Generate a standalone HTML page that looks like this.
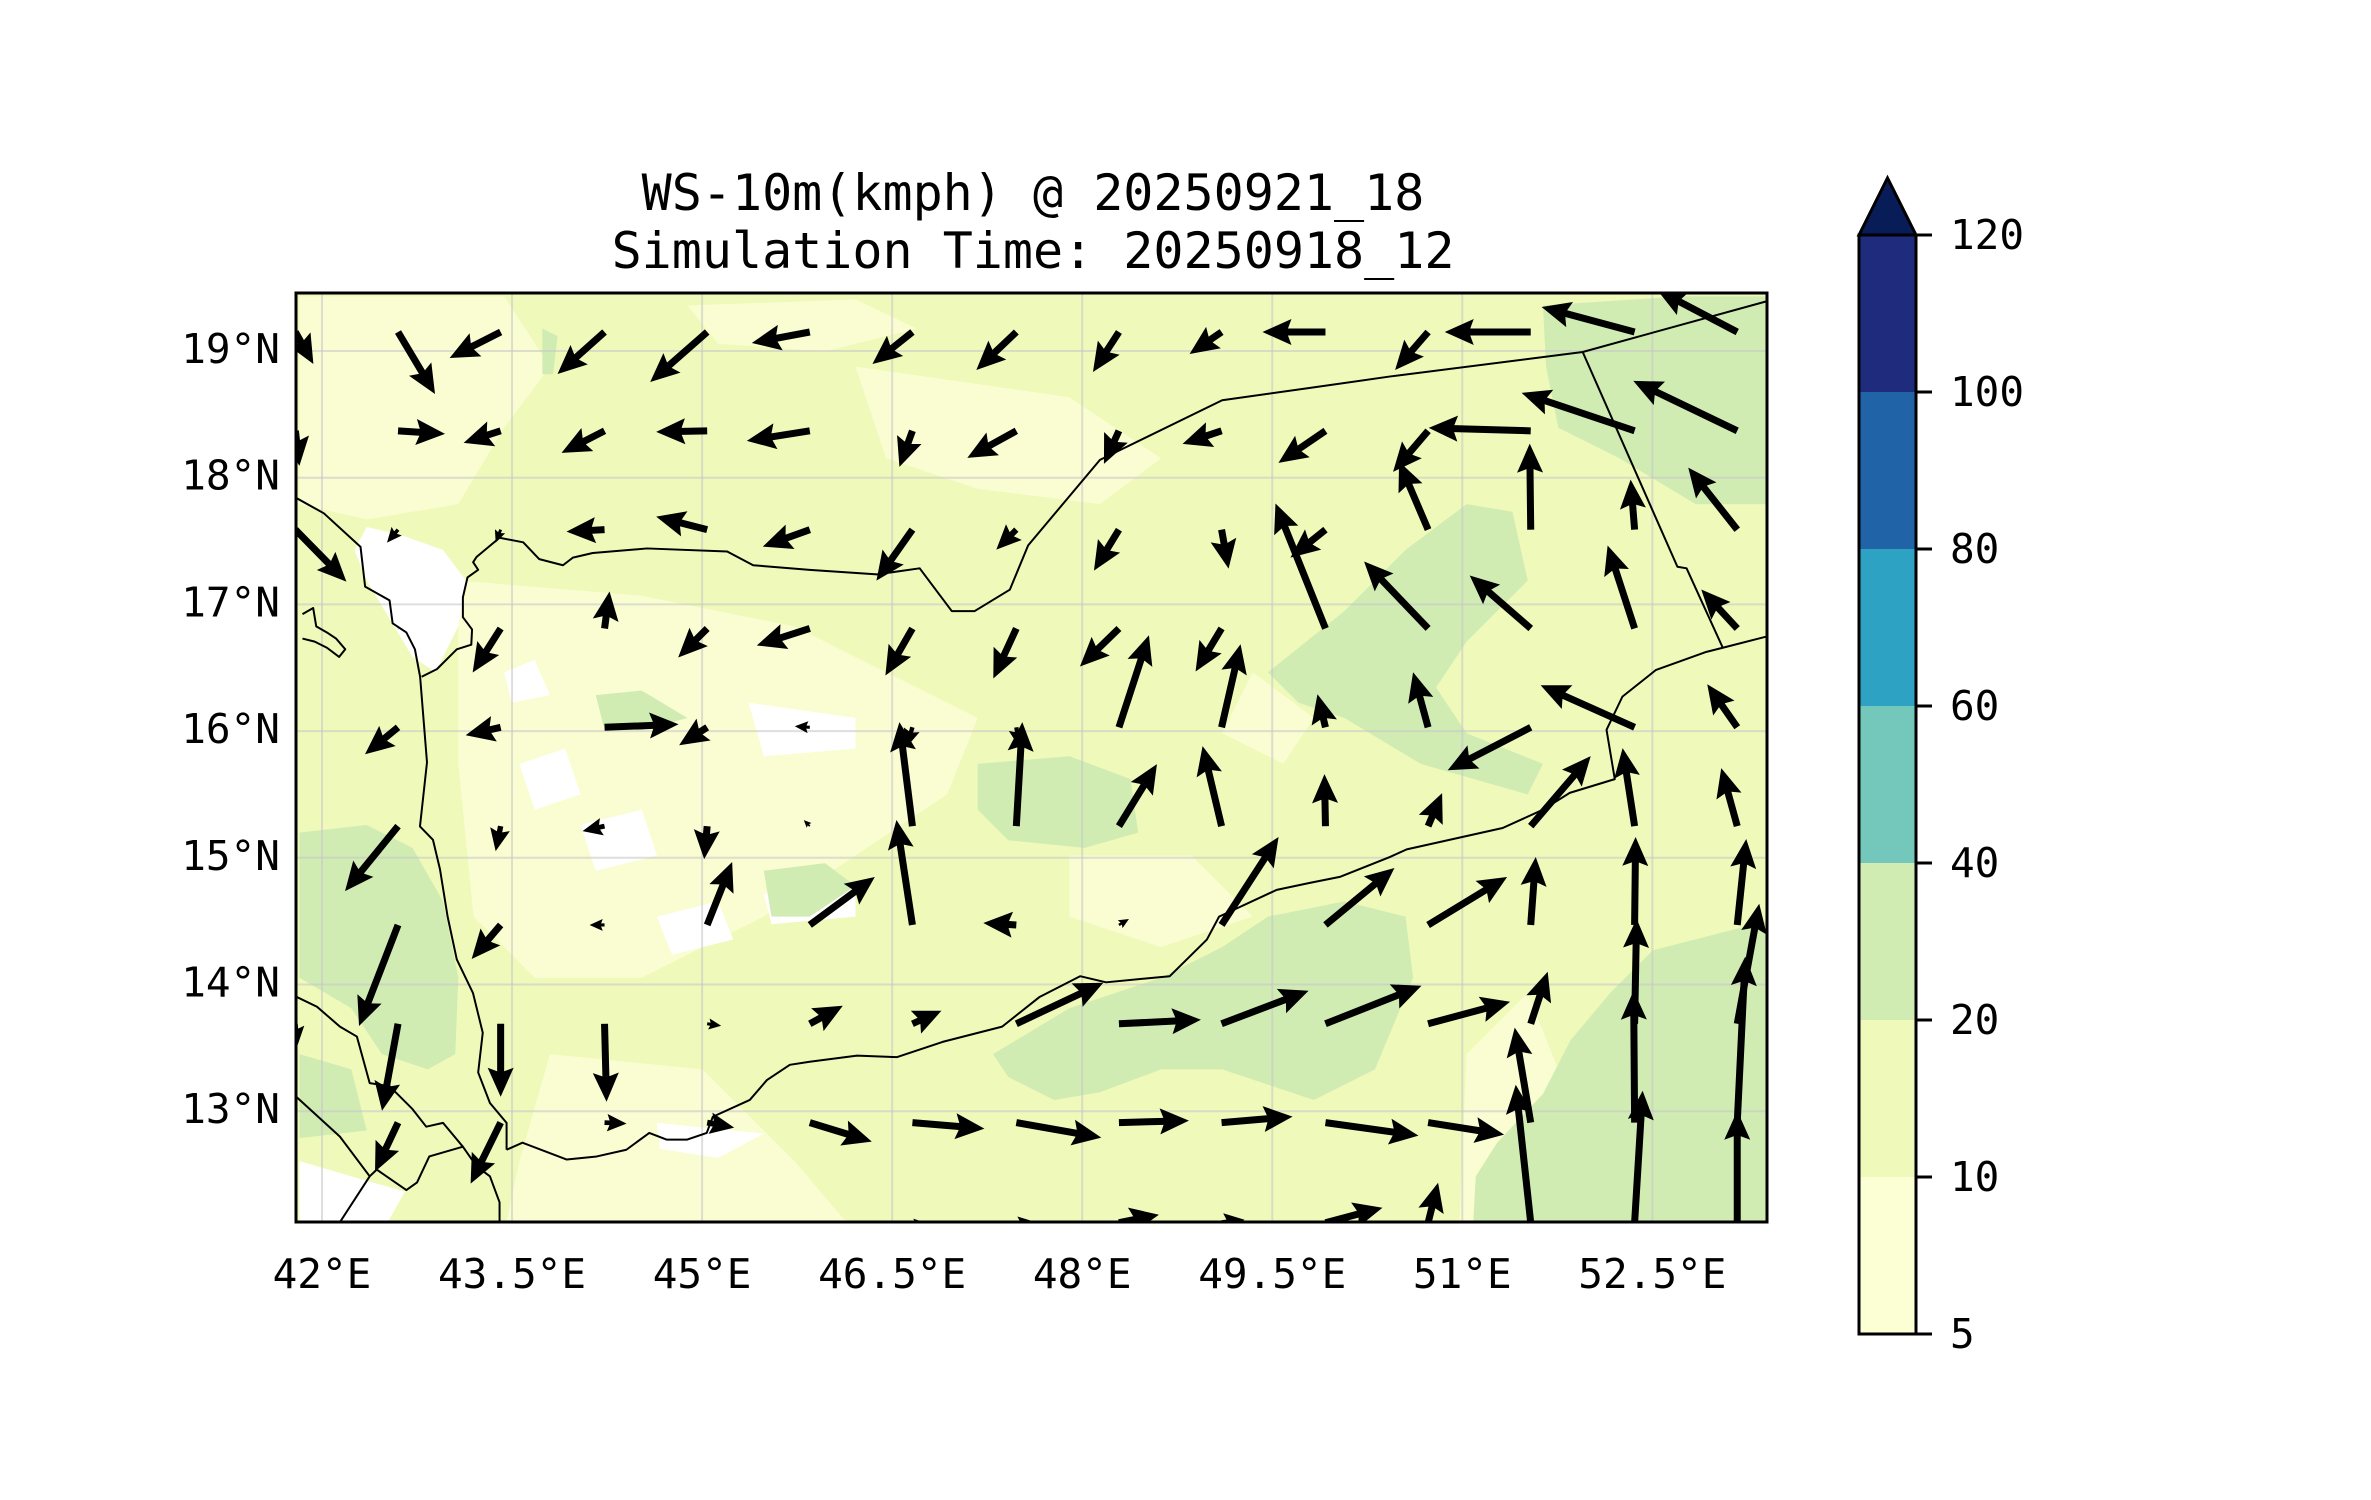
<!DOCTYPE html>
<html><head><meta charset="utf-8">
<style>
html,body{margin:0;padding:0;background:#fff;}
svg{display:block;font-family:"DejaVu Sans Mono","Liberation Mono",monospace;}
</style></head>
<body>
<svg id="fig" width="2371" height="1500" viewBox="0 0 2371 1500" xmlns="http://www.w3.org/2000/svg">
  <rect x="0" y="0" width="2371" height="1500" fill="#ffffff"/>
  <text x="1033" y="193" font-size="50" text-anchor="middle" dominant-baseline="central" fill="#000">WS-10m(kmph) @ 20250921_18</text>
  <text x="1033" y="251" font-size="50" text-anchor="middle" dominant-baseline="central" fill="#000">Simulation Time: 20250918_12</text>
  <defs>
    <clipPath id="mapclip"><rect x="296" y="293" width="1471" height="929"/></clipPath>
  </defs>
  <g id="map" clip-path="url(#mapclip)">
    <rect x="296" y="293" width="1471" height="929" fill="#eff9ba"/>
    <g id="fills" transform="scale(1.5277)"></g>
    <g id="grid"></g>
    <g id="coast" transform="scale(1.5277)" fill="none" stroke="#000" stroke-width="1.3" stroke-linejoin="round"></g>
    <g id="arrows"></g>
  </g>
  <rect x="296" y="293" width="1471" height="929" fill="none" stroke="#000" stroke-width="3"/>
  <g id="xlabels"></g>
  <g id="ylabels"></g>
  <g id="cbar"></g>
</svg>
<script>
// ---- data ----
const lonTicks = [42, 43.5, 45, 46.5, 48, 49.5, 51, 52.5];
const lonTickLabels = ["42°E","43.5°E","45°E","46.5°E","48°E","49.5°E","51°E","52.5°E"];
const latTicks = [19, 18, 17, 16, 15, 14, 13];
const latTickLabels = ["19°N","18°N","17°N","16°N","15°N","14°N","13°N"];
const cbarLevels = [5, 10, 20, 40, 60, 80, 100, 120];
const cbarColors = ["#fcfed3","#eff9ba","#d0ecb3","#73c8bb","#2ea2c2","#2163a7","#1f2c7e"];
const cbarExtendColor = "#081d58";
const gridLons = [41.79,42.60,43.41,44.23,45.04,45.85,46.66,47.48,48.29,49.10,49.92,50.73,51.54,52.36,53.17];
const gridLats = [19.15,18.37,17.59,16.81,16.03,15.25,14.47,13.69,12.91,12.12];
// wind components per row (u east, v north)
const u0 = [18,37,-51,-47,-57,-58,-40,-40,-26,-32,-63,-33,-86,-93,-80];
const v0 = [-32,-62,-26,-42,-50,-11,-32,-38,-40,-22,0,-38,0,25,42];
const u1 = [4,47,-37,-43,-51,-63,-13,-49,-15,-39,-47,-35,-102,-113,-104];
const v1 = [-35,-3,-12,-22,-1,-10,-36,-27,-33,-13,-32,-41,3,38,50];
const u2 = [51,-11,-5,-38,-51,-47,-36,-20,-25,7,-35,-29,-1,-4,-49];
const v2 = [-52,-13,-13,-2,13,-17,-51,-20,-41,-39,-28,68,86,50,62];
const u3 = [2,0,-28,5,-29,-53,-27,-23,-39,-26,-50,-64,-61,-27,-36];
const v3 = [2,-1,-44,37,-29,-17,-47,-50,-38,-43,125,67,53,83,39];
const u4 = [2,-33,-35,74,-28,-15,-6,3,30,19,-8,-15,-83,-94,-30];
const v4 = [0,-27,-8,3,-18,1,-20,-20,92,83,33,55,-43,42,43];
const u5 = [1,-53,-5,-22,-3,-6,-13,6,38,-19,-1,14,60,-12,-16];
const v5 = [-1,-65,-25,-5,-33,6,104,104,62,80,52,33,70,78,58];
const u6 = [1,-39,-29,-15,25,65,-16,-33,10,57,69,79,5,1,9];
const v6 = [0,-101,-34,0,63,48,105,2,6,88,57,48,68,88,86];
const u7 = [2,-16,0,2,14,33,29,87,82,87,96,82,17,2,22];
const v7 = [-22,-87,-73,-78,-2,18,13,41,4,33,38,22,52,105,120];
const u8 = [1,-23,-30,22,27,62,72,85,70,71,93,76,-16,-1,8];
const v8 = [-1,-49,-61,-1,-5,-19,-6,-15,2,6,-13,-12,95,132,166];
const u9 = [0,0,0,0,0,5,10,15,40,23,57,10,-15,8,0];
const v9 = [-10,-10,-10,-10,-10,2,1,2,8,3,15,40,138,132,112];
const uRows = [u0,u1,u2,u3,u4,u5,u6,u7,u8,u9];
const vRows = [v0,v1,v2,v3,v4,v5,v6,v7,v8,v9];

// ---- axes ----
const NS = "http://www.w3.org/2000/svg";
const PX_PER_DEG = 126.7;
function xOf(lon){ return 322 + (lon - 42) * PX_PER_DEG; }
function yOf(lat){ return 351 - (lat - 19) * PX_PER_DEG; }
const QSCALE = 1.0; // px per unit
function mk(tag, attrs, parent){ const e=document.createElementNS(NS,tag); for(const k in attrs) e.setAttribute(k,attrs[k]); parent.appendChild(e); return e; }

// gridlines
const grid = document.getElementById('grid');
lonTicks.forEach(l=>{ const ln=mk('line',{x1:xOf(l),x2:xOf(l),y1:293,y2:1222,stroke:'#c8c8c8','stroke-width':2,'stroke-opacity':0.6},grid);

 });
latTicks.forEach(l=>{ const ln=mk('line',{x1:296,x2:1767,y1:yOf(l),y2:yOf(l),stroke:'#c8c8c8','stroke-width':2,'stroke-opacity':0.6},grid);

 });

// tick labels
const xl = document.getElementById('xlabels');
lonTicks.forEach((l,i)=>{ const t=mk('text',{x:xOf(l),y:1274,'font-size':41,'text-anchor':'middle','dominant-baseline':'central'},xl); t.textContent=lonTickLabels[i];

 });
const yl = document.getElementById('ylabels');
latTicks.forEach((l,i)=>{ const t=mk('text',{x:280,y:yOf(l)-2,'font-size':41,'text-anchor':'end','dominant-baseline':'central'},yl); t.textContent=latTickLabels[i];

 });

// contour fills (approximate, display coords)
const fills = document.getElementById('fills');
const pale = "#fafdd1", green = "#d0ecb3", white = "#ffffff";
const fillShapes = [
 [pale,"196,194 330,194 360,240 330,280 300,330 240,340 196,330"],
 [pale,"300,380 420,390 520,410 580,440 640,470 620,520 560,560 500,600 420,640 350,640 310,600 300,500"],
 [pale,"360,690 460,700 520,760 560,807 330,807 340,760"],
 [pale,"560,240 700,260 760,300 720,330 640,320 580,300"],
 [pale,"700,560 780,560 820,600 760,620 700,600"],
 [pale,"960,690 1000,650 1020,700 990,760 975,807 955,807"],
 [pale,"450,200 560,196 600,215 540,230 470,225"],
 [pale,"820,440 860,470 840,500 800,480"],
 [white,"240,345 262,350 290,360 305,380 300,410 285,440 270,430 255,405 240,380 232,360"],
 [white,"196,760 230,770 265,780 250,807 196,807"],
 [white,"340,500 370,490 380,520 350,530"],
 [white,"490,460 560,470 560,490 500,495"],
 [white,"380,540 420,530 430,560 390,570"],
 [white,"500,585 560,580 560,600 505,605"],
 [white,"430,735 500,742 470,758 432,752"],
 [white,"330,440 350,432 360,455 335,460"],
 [white,"430,600 470,590 480,615 440,625"],
 [green,"196,545 240,540 270,555 290,590 300,640 298,690 280,700 250,690 230,660 196,640"],
 [green,"196,690 230,700 240,740 196,745"],
 [green,"1168,600 1082,622 1054,650 1028,681 1010,716 980,748 966,770 964,807 1168,807"],
 [green,"650,690 700,660 760,640 800,620 830,600 880,590 920,600 925,640 900,700 860,720 800,700 760,700 720,715 690,720 660,705"],
 [green,"830,440 880,400 920,360 960,330 990,335 1000,380 960,420 940,450 960,480 1010,500 1000,520 930,500 880,470 850,460"],
 [green,"1010,200 1100,194 1168,194 1168,330 1110,330 1060,300 1020,280 1012,240"],
 [green,"640,500 700,495 740,510 745,545 710,555 660,550 640,530"],
 [green,"500,570 540,565 560,580 530,600 505,600"],
 [green,"390,455 420,452 450,470 420,478 395,475"],
 [green,"355,215 365,220 362,245 355,245"]
];
fillShapes.forEach(s=>{ const p=mk('polygon',{points:s[1],fill:s[0],stroke:'none'},fills);

 });

// coastlines & borders (display coords)
const coast = document.getElementById('coast');
const coastLines = [
 "194,326 212,336 236,358 239,384 255,393 257,408 266,414 271.6,425 275,443 279.5,499 274.9,541 283.4,549.7 288,569 293,600 299,628 309.6,650 316,676 313,702 320.7,722 331.6,735 331.6,752.6",
 "331.6,752.6 342,748 371,759 390.6,757 410,752.6 425,741.6 436.5,746 449.6,746 462.6,741.6 466.6,731 490.8,720 502,707 517,697 530,695 561,691 587,692 617,682 656,672 680.6,652.5 707,639 724,643 765.7,639 790,615 798,600 835.7,582.5 857,578 877,574 909.7,561 920.8,556 983.6,542 1010,530 1027.5,519 1057,510 1051.6,477.7 1062,456 1084,438.5 1117,426.7 1127.7,424 1155,417 1170,415",
 "276,443 286,438 299,425 308.5,422 309,412 303,404 303,391 306,378 313,373 309.7,368 312,364.5 327,352 342.5,355 353,366 368.5,370 375,365 388,362 423.5,359 476,361 493,370 530,373 574,376 602,372 623,400 638,400 661,386 673,357 720,301 800,262 857,254 909.5,246.5 1036,230.4 1168,194",
 "1036,230.4 1098,371 1104,372 1127.7,424",
 "194,652.5 207.5,659 222.5,672 233.6,678.5 242,709 255,711 270,726 279,737.5 290,735 303,750.6 312,763.5 320.7,770 327,787 327,810",
 "194,718 222.5,744 242,770 246.6,765.6 266,779 273,774 281,757 303,750.6",
 "242,770 222.5,800 215,810",
 "198,402 205,398 207,410 214,414 220,418 226,425 222,430 214,424 206,420 198,418"
];
coastLines.forEach(s=>{ const p=mk('polyline',{points:s},coast);

 });

// arrows
const arrows = document.getElementById('arrows');
const W = 7, HL = 29, HA = 25.5, HW = 13;
for (let j=0;j<gridLats.length;j++){
  for (let i=0;i<gridLons.length;i++){
    const x0 = xOf(gridLons[i]), y0 = yOf(gridLats[j]);
    const dx = uRows[j][i]*QSCALE, dy = -vRows[j][i]*QSCALE;
    const L = Math.hypot(dx,dy);
    if (L < 0.5) continue;
    const ang = Math.atan2(dy,dx)*180/Math.PI;
    let s = 1, len = L;
    if (L < HL + 4) { s = L/(HL+4); }
    const w=W*s, hl=HL*s, ha=HA*s, hw=HW*s;
    const sh = Math.max(len-ha, 0);
    const pts = [[0,-w/2],[sh,-w/2],[len-hl,-hw],[len,0],[len-hl,hw],[sh,w/2],[0,w/2]];
    const poly = mk('polygon',{points:pts.map(p=>p[0].toFixed(2)+','+p[1].toFixed(2)).join(' '),
      transform:`translate(${x0.toFixed(2)},${y0.toFixed(2)}) rotate(${ang.toFixed(2)})`, fill:'#000'}, arrows);
    
    
  }
}

// colorbar
const cb = document.getElementById('cbar');
const CBX = 1859, CBW = 57, CBTOP = 235, SEG = 157;
function cbY(idx){ return CBTOP + (cbarLevels.length-1-idx)*SEG; }
for (let k=0;k<cbarColors.length;k++){
  const r = mk('rect',{x:CBX,y:cbY(k+1),width:CBW,height:SEG,fill:cbarColors[k]},cb);
  
  
}
const tri = mk('polygon',{points:`${CBX},${CBTOP} ${CBX+CBW/2},178 ${CBX+CBW},${CBTOP}`,fill:cbarExtendColor,stroke:'#000','stroke-width':3,'stroke-linejoin':'miter'},cb);


const outline = mk('rect',{x:CBX,y:CBTOP,width:CBW,height:SEG*7,fill:'none',stroke:'#000','stroke-width':3},cb);


cbarLevels.forEach((lv,k)=>{
  const y = cbY(k);
  const tk = mk('line',{x1:CBX+CBW,x2:CBX+CBW+16,y1:y,y2:y,stroke:'#000','stroke-width':3},cb);
  
  
  const t = mk('text',{x:1950,y:y,'font-size':41,'dominant-baseline':'central'},cb);
  t.textContent = String(lv);
  
  
});
</script>
</body></html>
